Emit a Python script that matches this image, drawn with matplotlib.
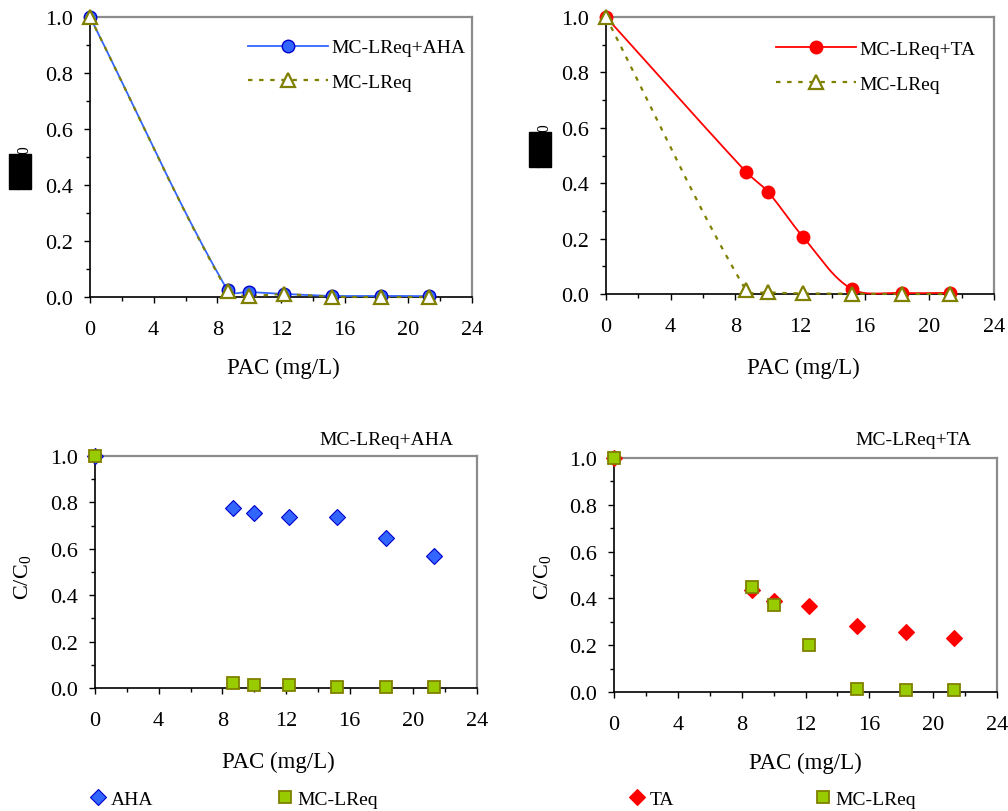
import numpy as np
import matplotlib
matplotlib.use("Agg")
import matplotlib.pyplot as plt
from matplotlib.lines import Line2D
from matplotlib.patches import Rectangle

plt.rcParams['font.family'] = ['Liberation Serif', 'DejaVu Serif']
plt.rcParams['mathtext.fontset'] = 'custom'
plt.rcParams['mathtext.rm'] = 'Liberation Serif'
plt.rcParams['mathtext.it'] = 'Liberation Serif:italic'

# dosis de PAC (mg/L)
pac = [0, 8.64, 10.0, 12.2, 15.2, 18.3, 21.3]

# arriba izquierda
mc_aha = [1.0, 0.024, 0.018, 0.011, 0.004, 0.004, 0.003]
mc_sola_1 = [1.0, 0.02, 0.005, 0.01, 0.001, 0.0, 0.0]

# arriba derecha
mc_ta = [1.0, 0.442, 0.370, 0.205, 0.018, 0.004, 0.004]
mc_sola_2 = [1.0, 0.015, 0.006, 0.002, 0.001, 0.0, 0.0]

# abajo izquierda
aha = [1.0, 0.774, 0.756, 0.739, 0.739, 0.646, 0.569]
mc_abajo_1 = [1.0, 0.023, 0.014, 0.014, 0.004, 0.004, 0.004]

# abajo derecha
ta = [1.0, 0.434, 0.387, 0.367, 0.282, 0.256, 0.230]
mc_abajo_2 = [1.0, 0.45, 0.373, 0.202, 0.014, 0.007, 0.007]

W, H = 1008, 812
AZUL = '#3366FF'
AZUL_BORDE = '#0000CC'
OLIVA = '#808000'
ROJO = '#FF0000'
VERDE = '#99CC00'


def suavizar(x, y, sx, sy, n=30):
    # curva suavizada tipo Excel (bezier), tangentes escaladas por largo del tramo
    p = np.column_stack([np.array(x) * sx, np.array(y) * sy]).astype(float)
    pts = np.vstack([p[0], p, p[-1]])
    out = []
    for i in range(1, len(pts) - 2):
        p0, p1, p2, p3 = pts[i - 1], pts[i], pts[i + 1], pts[i + 2]
        d01 = np.hypot(*(p1 - p0))
        d12 = np.hypot(*(p2 - p1))
        d23 = np.hypot(*(p3 - p2))
        f1 = d12 / (d01 + d12) if d01 + d12 > 0 else 0
        f2 = d12 / (d12 + d23) if d12 + d23 > 0 else 0
        c1 = p1 + (p2 - p0) * f1 / 3.0
        c2 = p2 - (p3 - p1) * f2 / 3.0
        t = np.linspace(0, 1, n)[:, None]
        seg = (1 - t) ** 3 * p1 + 3 * (1 - t) ** 2 * t * c1 + 3 * (1 - t) * t ** 2 * c2 + t ** 3 * p2
        out.append(seg)
    c = np.vstack(out)
    return c[:, 0] / sx, c[:, 1] / sy


def ejes(rect, xlab_coords, ylab_coords):
    ax = fig.add_axes(rect)
    ax.set_xlim(0, 24)
    ax.set_ylim(0, 1.0)
    ax.set_xticks(np.arange(0, 25, 4))
    ax.set_xticks(np.arange(0, 25, 2), minor=True)
    ax.set_yticks(np.arange(0, 1.01, 0.2))
    ax.set_yticks(np.arange(0, 1.01, 0.1), minor=True)
    ax.set_yticklabels([f'{v:.1f}' for v in np.arange(0, 1.01, 0.2)])
    ax.tick_params(which='major', direction='out', length=4.5, width=1, labelsize=16)
    ax.tick_params(which='minor', direction='out', length=3, width=1)
    ax.tick_params(axis='x', pad=12)
    ax.tick_params(axis='y', pad=8)
    for s in ['left', 'bottom']:
        ax.spines[s].set_color('black')
        ax.spines[s].set_linewidth(1.2)
    for s in ['top', 'right']:
        ax.spines[s].set_color('#8c8c8c')
        ax.spines[s].set_linewidth(1.6)
    ax.set_xlabel('PAC (mg/L)', fontsize=16.5)
    ax.xaxis.set_label_coords(*xlab_coords)
    ax.set_ylabel('C/C$_0$', fontsize=16)
    ax.yaxis.set_label_coords(*ylab_coords)
    return ax


fig = plt.figure(figsize=(W / 100, H / 100), dpi=100)
fig.patch.set_facecolor('white')

# ---- arriba izquierda ----
ax1 = ejes([90 / W, 1 - 298 / H, 382 / W, 280 / H], (0.505, -0.215), (-0.155, 0.461))
xs, ys = suavizar(pac, mc_aha, 382 / 24, 280)
ax1.plot(xs, ys, color=AZUL, lw=1.3, clip_on=False, zorder=3)
xs, ys = suavizar(pac, mc_sola_1, 382 / 24, 280)
ax1.plot(xs, ys, color=OLIVA, lw=1.6, ls=(0, (2, 3)), clip_on=False, zorder=3)
ax1.plot(pac, mc_aha, 'o', ms=9, mfc=AZUL, mec=AZUL_BORDE, mew=1, clip_on=False, zorder=4)
ax1.plot(pac, mc_sola_1, '^', ms=10, mfc='white', mec=OLIVA, mew=1.6, clip_on=False, zorder=5)
h1 = [Line2D([], [], color=AZUL, lw=1.3, marker='o', ms=9, mfc=AZUL, mec=AZUL_BORDE),
      Line2D([], [], color=OLIVA, lw=1.6, ls=(0, (2, 3)), marker='^', ms=10, mfc='white', mec=OLIVA, mew=1.6)]
ax1.legend(h1, ['MC-LReq+AHA', 'MC-LReq'], loc='upper left', bbox_to_anchor=(0.414, 0.922),
           frameon=False, fontsize=14, handlelength=4.1, handletextpad=0.2, labelspacing=0.87,
           borderpad=0, borderaxespad=0)

# ---- arriba derecha ----
ax2 = ejes([606 / W, 1 - 295 / H, 388 / W, 277 / H], (0.508, -0.225), (-0.142, 0.538))
xs, ys = suavizar(pac, mc_ta, 388 / 24, 277)
ax2.plot(xs, ys, color=ROJO, lw=1.3, clip_on=False, zorder=3)
xs, ys = suavizar(pac, mc_sola_2, 388 / 24, 277)
ax2.plot(xs, ys, color=OLIVA, lw=1.6, ls=(0, (2, 3)), clip_on=False, zorder=3)
ax2.plot(pac, mc_ta, 'o', ms=9, mfc=ROJO, mec=ROJO, clip_on=False, zorder=4)
ax2.plot(pac, mc_sola_2, '^', ms=10, mfc='white', mec=OLIVA, mew=1.6, clip_on=False, zorder=5)
h2 = [Line2D([], [], color=ROJO, lw=1.3, marker='o', ms=9, mfc=ROJO, mec=ROJO),
      Line2D([], [], color=OLIVA, lw=1.6, ls=(0, (2, 3)), marker='^', ms=10, mfc='white', mec=OLIVA, mew=1.6)]
ax2.legend(h2, ['MC-LReq+TA', 'MC-LReq'], loc='upper left', bbox_to_anchor=(0.438, 0.915),
           frameon=False, fontsize=14, handlelength=4.1, handletextpad=0.2, labelspacing=0.87,
           borderpad=0, borderaxespad=0)

# ---- abajo izquierda ----
ax3 = ejes([95 / W, 1 - 689 / H, 382 / W, 232 / H], (0.48, -0.27), (-0.162, 0.48))
ax3.plot(pac, aha, 'D', ms=8, mfc=AZUL, mec=AZUL_BORDE, mew=0.8, clip_on=False, zorder=4)
ax3.plot(pac, mc_abajo_1, 's', ms=9, mfc=VERDE, mec=OLIVA, mew=1.3, clip_on=False, zorder=5)
ax3.text(0.762, 1.069, 'MC-LReq+AHA', transform=ax3.transAxes, ha='center', va='center', fontsize=14)
h3 = [Line2D([], [], ls='none', marker='D', ms=8, mfc=AZUL, mec=AZUL_BORDE, mew=0.8),
      Line2D([], [], ls='none', marker='s', ms=9, mfc=VERDE, mec=OLIVA, mew=1.3)]
ax3.legend(h3, ['AHA', 'MC-LReq'], loc='center left', bbox_to_anchor=(88 / W, 1 - 800 / H),
           bbox_transform=fig.transFigure, ncol=2, frameon=False, fontsize=14, handlelength=1,
           handletextpad=0.15, columnspacing=6.3, borderpad=0, borderaxespad=0)

# ---- abajo derecha ----
ax4 = ejes([614 / W, 1 - 693 / H, 383 / W, 234 / H], (0.499, -0.255), (-0.159, 0.495))
ax4.plot(pac, ta, 'D', ms=8, mfc=ROJO, mec=ROJO, mew=0.8, clip_on=False, zorder=4)
ax4.plot(pac, mc_abajo_2, 's', ms=9, mfc=VERDE, mec=OLIVA, mew=1.3, clip_on=False, zorder=5)
ax4.text(0.783, 1.081, 'MC-LReq+TA', transform=ax4.transAxes, ha='center', va='center', fontsize=14)
h4 = [Line2D([], [], ls='none', marker='D', ms=8, mfc=ROJO, mec=ROJO, mew=0.8),
      Line2D([], [], ls='none', marker='s', ms=9, mfc=VERDE, mec=OLIVA, mew=1.3)]
ax4.legend(h4, ['TA', 'MC-LReq'], loc='center left', bbox_to_anchor=(627 / W, 1 - 800 / H),
           bbox_transform=fig.transFigure, ncol=2, frameon=False, fontsize=14, handlelength=1,
           handletextpad=0.15, columnspacing=7.15, borderpad=0, borderaxespad=0)

# cajas negras que tapan la etiqueta de arriba (como en la imagen)
for x0, y0, x1, y1 in [(9, 155, 31, 190), (529, 133, 551, 168)]:
    fig.add_artist(Rectangle((x0 / W, 1 - y1 / H), (x1 - x0) / W, (y1 - y0) / H,
                             transform=fig.transFigure, color='black', zorder=20))

fig.savefig('out.png', dpi=100, facecolor='white')
